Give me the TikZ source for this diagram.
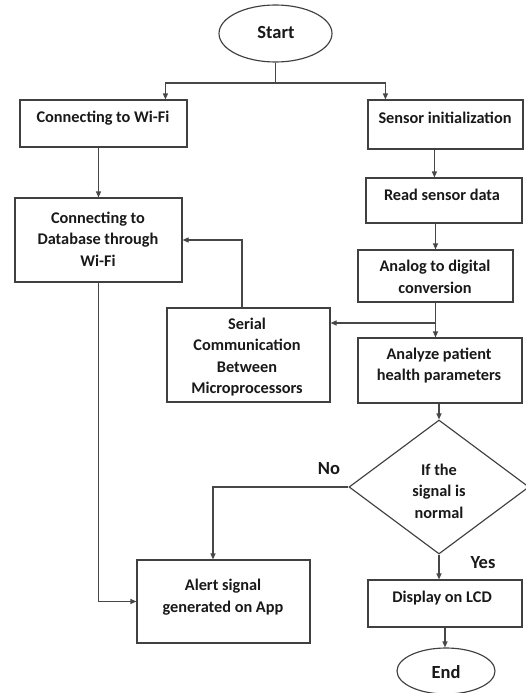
\documentclass[tikz,border=0pt]{standalone}
\usepackage{fontspec}
\setmainfont{Carlito}
\usetikzlibrary{shapes.geometric,arrows.meta}
\begin{document}
\begin{tikzpicture}[x=1pt,y=-1pt,
  box/.style={draw=black!75,line width=1.15pt,inner sep=0pt,fill=white},
  txt/.style={font=\bfseries\fontsize{16.3}{21.5}\selectfont,align=center,text=black!90,inner sep=0pt},
  big/.style={txt,font=\bfseries\fontsize{18.5}{22}\selectfont},
  conn/.style={draw=black!72,line width=1.15pt},
  arr/.style={conn,-{Triangle[length=6pt,width=5pt]}}]
\useasboundingbox (0,0) rectangle (525,693);
% shapes
\node[box,ellipse,minimum width=113pt,minimum height=57pt] (start) at (275.5,33.5) {};
\node[box,minimum width=167pt,minimum height=47pt] (wifi) at (103.5,123.5) {};
\node[box,minimum width=155pt,minimum height=49pt] (sensor) at (445.5,124.5) {};
\node[box,minimum width=156pt,minimum height=45pt] (read) at (444,200.5) {};
\node[box,minimum width=155pt,minimum height=52pt] (analog) at (435.5,276) {};
\node[box,minimum width=167pt,minimum height=84pt] (db) at (98.5,240) {};
\node[box,minimum width=163pt,minimum height=94pt] (serial) at (248.5,355) {};
\node[box,minimum width=164pt,minimum height=65pt] (analyze) at (440,370.5) {};
\node[box,diamond,minimum width=180pt,minimum height=134pt] (dia) at (439,487) {};
\node[box,minimum width=173pt,minimum height=83pt] (alert) at (223.5,601.5) {};
\node[box,minimum width=154pt,minimum height=47pt] (display) at (445,603.5) {};
\node[box,ellipse,minimum width=98pt,minimum height=46pt] (end) at (446,671) {};
% texts
\node[big] (tstart) at (276,33) {Start};
\node[txt] (twifi) at (103,118) {Connecting to Wi-Fi};
\node[txt] (tsensor) at (445,118) {Sensor initialization};
\node[txt] (tread) at (442,195) {Read sensor data};
\node[txt] (tanalog) at (435,277) {Analog to digital\\conversion};
\node[txt] (tdb) at (98,239) {Connecting to\\Database through\\Wi-Fi};
\node[txt] (tserial) at (247,357) {Serial\\Communication\\Between\\Microprocessors};
\node[txt] (tanalyze) at (439,365.5) {Analyze patient\\health parameters};
\node[txt] (tdia) at (439,491) {If the\\signal is\\normal};
\node[txt] (talert) at (223,597) {Alert signal\\generated on App};
\node[txt] (tdisplay) at (442,598) {Display on LCD};
\node[big] (tend) at (446,672) {End};
\node[big] (no) at (329,469) {No};
\node[big] (yes) at (483,563) {Yes};
% connectors
\coordinate (j1) at (275.5,83);
\draw[conn] (start.south) -- (j1);
\draw[arr] (j1) -| ([xshift=146pt]wifi.north west);
\draw[arr] (j1) -| ([xshift=18pt]sensor.north west);
\draw[arr] (wifi.south -| db.north) -- (db.north);
\draw[arr] ([xshift=67pt]sensor.south west) -- ([xshift=69pt]read.north west);
\draw[arr] (read.south -| analog.north) -- (analog.north);
\draw[arr] (analog.south) -- (analog.south |- analyze.north);
\coordinate (j2) at (435.5,323);
\draw[arr] (j2) -- (j2 -| serial.east);
\draw[arr] ([xshift=-6.5pt]serial.north) |- (db.east);
\draw[arr] (analyze.south -| dia.north) -- (dia.north);
\draw[arr] (dia.west) -| ([xshift=-10.5pt]alert.north);
\draw[arr] (db.south) |- (alert.west);
\draw[arr] (dia.south) -- (dia.south |- display.north);
\draw[arr] (display.south) -- (display.south |- end.north);
\end{tikzpicture}
\end{document}
